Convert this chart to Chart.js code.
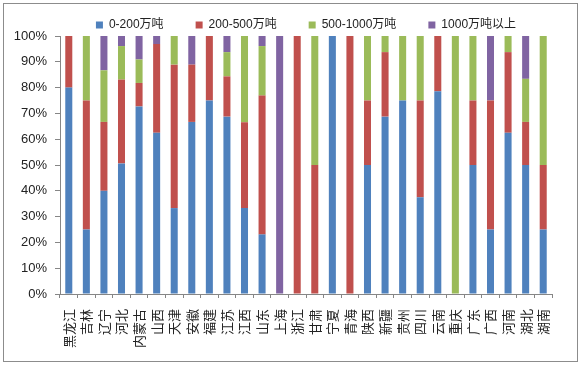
<!DOCTYPE html>
<html>
<head>
<meta charset="utf-8">
<script src="https://cdn.jsdelivr.net/npm/chart.js@4/dist/chart.umd.min.js"></script>
<style>
  html, body { margin: 0; padding: 0; background: #fff; }
  #wrap { position: relative; width: 582px; height: 366px; }
  #frame { position: absolute; left: 3px; top: 3px; width: 575px; height: 359px; box-sizing: border-box; border: 1px solid #8c8c8c; pointer-events: none; }
</style>
</head>
<body>
<div id="wrap">
  <canvas id="chart" width="582" height="366"></canvas>
  <div id="frame"></div>
</div>
<script>
// --- DATA ---
const provinces = ['黑龙江', '吉林', '辽宁', '河北', '内蒙古', '山西', '天津', '安徽', '福建', '江苏',
  '江西', '山东', '上海', '浙江', '甘肃', '宁夏', '青海', '陕西', '新疆', '贵州',
  '四川', '云南', '重庆', '广东', '广西', '河南', '湖北', '湖南'];

const seriesNames = ['0-200万吨', '200-500万吨', '500-1000万吨', '1000万吨以上'];

const small = [80, 25, 40, 50.6, 72.7, 62.5, 33.3, 66.7, 75, 68.75,
  33.3, 23.1, 0, 0, 0, 100, 0, 50, 68.75, 75,
  37.5, 78.6, 0, 50, 25, 62.5, 50, 25];

const medium = [20, 50, 26.7, 32.5, 9.1, 34.4, 55.6, 22.2, 25, 15.6,
  33.3, 53.8, 0, 100, 50, 0, 100, 25, 25, 0,
  37.5, 21.4, 0, 25, 50, 31.25, 16.7, 25];

const large = [0, 25, 20, 13, 9.1, 0, 11.1, 0, 0, 9.4,
  33.4, 19.2, 0, 0, 50, 0, 0, 25, 6.25, 25,
  25, 0, 100, 25, 0, 6.25, 16.7, 50];

const huge = [0, 0, 13.3, 3.9, 9.1, 3.1, 0, 11.1, 0, 6.25,
  0, 3.9, 100, 0, 0, 0, 0, 0, 0, 0,
  0, 0, 0, 0, 25, 0, 16.6, 0];

const yTicks = [0, 10, 20, 30, 40, 50, 60, 70, 80, 90, 100];

const colors = ['#4F81BD', '#C0504D', '#9BBB59', '#8064A2'];
const axisColor = '#868686';
const textColor = '#222';
const fontFamily = "'Liberation Sans', 'Noto Sans CJK SC', sans-serif";

// --- CHART ---
const ctx = document.getElementById('chart').getContext('2d');
new Chart(ctx, {
  type: 'bar',
  data: {
    labels: provinces,
    datasets: [small, medium, large, huge].map((vals, i) => ({
      label: seriesNames[i],
      data: vals,
      backgroundColor: colors[i],
      borderWidth: 0,
      categoryPercentage: 1,
      barPercentage: 0.4
    }))
  },
  options: {
    responsive: false,
    animation: false,
    devicePixelRatio: 1,
    layout: { padding: { left: 3, right: 30, top: -13, bottom: 4 } },
    plugins: {
      tooltip: { enabled: false },
      legend: {
        position: 'top',
        fullSize: false,
        maxHeight: 49,
        labels: {
          boxWidth: 7,
          boxHeight: 7,
          padding: 32,
          color: textColor,
          font: { family: fontFamily, size: 12 }
        }
      }
    },
    scales: {
      x: {
        stacked: true,
        grid: { display: true, drawOnChartArea: false, drawTicks: true, tickLength: 4, color: axisColor },
        border: { display: true, color: axisColor },
        ticks: {
          autoSkip: false,
          minRotation: 90,
          maxRotation: 90,
          padding: 11,
          color: textColor,
          font: { family: "'Noto Sans CJK SC', sans-serif", size: 13 }
        },
        afterFit: scale => { scale.height = 68; }
      },
      y: {
        stacked: true,
        min: 0,
        max: 100,
        afterBuildTicks: scale => { scale.ticks = yTicks.map(v => ({ value: v })); },
        grid: { display: true, drawOnChartArea: false, drawTicks: true, tickLength: 5, color: axisColor },
        border: { display: true, color: axisColor },
        ticks: {
          padding: 8,
          color: textColor,
          font: { family: fontFamily, size: 13 },
          callback: v => v + '%'
        },
        afterFit: scale => { scale.width = 57; }
      }
    }
  }
});
</script>
</body>
</html>
